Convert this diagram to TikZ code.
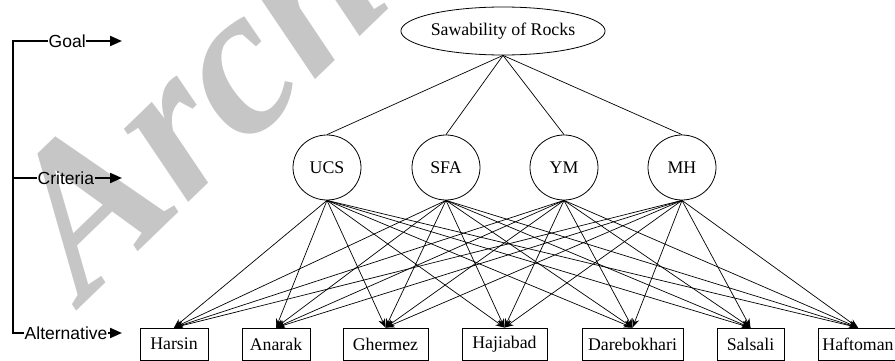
\documentclass[tikz,border=0pt]{standalone}
\usepackage{fontspec}
\setmainfont{Liberation Serif}
\newfontfamily\labelfont{Liberation Sans}
\usetikzlibrary{shapes.geometric,arrows.meta}
\definecolor{wmgray}{RGB}{198,198,198}
\begin{document}
\begin{tikzpicture}[x=1pt,y=-1pt,
  every node/.style={font=\fontsize{17.8}{20}\selectfont},
  goalnode/.style={ellipse,draw,line width=0.8pt,minimum width=202pt,minimum height=48pt,inner sep=0pt},
  critnode/.style={ellipse,draw,line width=0.8pt,minimum width=68pt,minimum height=65pt,inner sep=0pt},
  altnode/.style={rectangle,draw,line width=0.8pt,minimum height=32pt,inner sep=0pt},
  levellabel/.style={font=\labelfont\fontsize{17.5}{20}\selectfont,inner sep=0.5pt},
  link/.style={line width=0.7pt},
  alink/.style={line width=0.7pt,-{Stealth[length=9pt,width=7pt]}},
  brack/.style={line width=2pt,line join=miter},
  levelarrow/.style={line width=2pt,-{Triangle[length=12pt,width=10pt]}},
  watermark/.style={text=wmgray,font=\fontsize{212}{212}\selectfont\bfseries\itshape,inner sep=0pt}
]
\useasboundingbox (0,0) rectangle (895,361);
\begin{scope}
\clip (0,0) rectangle (895,361);
\node[watermark,anchor=base west,rotate=44] (wm) at (84,304) {Archive of SID};
\end{scope}

% level labels
\node[levellabel,anchor=west] (lgoal) at (48,41) {Goal};
\node[levellabel,anchor=west] (lcrit) at (37,178) {Criteria};
\node[levellabel,anchor=west] (lalt) at (24,333) {Alternative};
\coordinate (btop) at (13,41);
\coordinate (bmid) at (13,178);
\coordinate (bbot) at (13,333);
\coordinate (ga) at (122,41);
\coordinate (ca) at (122,178);
\coordinate (aa) at (122,333);
\draw[brack] (lgoal.west) -- (btop) -- (bbot) -- (lalt.west);
\draw[brack] (bmid) -- (lcrit.west);
\draw[levelarrow] (lgoal.east) -- (ga);
\draw[levelarrow] (lcrit.east) -- (ca);
\draw[levelarrow] (lalt.east) -- (aa);

% goal
\node[goalnode] (goal) at (503,31) {Sawability of Rocks};

% criteria
\node[critnode] (ucs) at (327,167.5) {UCS};
\node[critnode] (sfa) at (446,167.5) {SFA};
\node[critnode] (ym) at (564,167.5) {YM};
\node[critnode] (mh) at (682,167.5) {MH};

% alternatives
\node[altnode,minimum width=68pt] (harsin) at (174,344) {Harsin};
\node[altnode,minimum width=68pt] (anarak) at (276,344) {Anarak};
\node[altnode,minimum width=85pt] (ghermez) at (385.5,344) {Ghermez};
\node[altnode,minimum width=85pt] (hajiabad) at (504.5,344) {Hajiabad};
\node[altnode,minimum width=101pt] (darebokhari) at (632.5,344) {Darebokhari};
\node[altnode,minimum width=67pt] (salsali) at (750.5,344) {Salsali};
\node[altnode,minimum width=80pt] (haftoman) at (858,344) {Haftoman};

\foreach \c in {ucs,sfa,ym,mh}{
  \draw[link] (goal.south) -- (\c.north);
  \foreach \a in {harsin,anarak,ghermez,hajiabad,darebokhari,salsali,haftoman}{
    \draw[alink] (\c.south) -- (\a.north);
  }
}
\end{tikzpicture}
\end{document}
